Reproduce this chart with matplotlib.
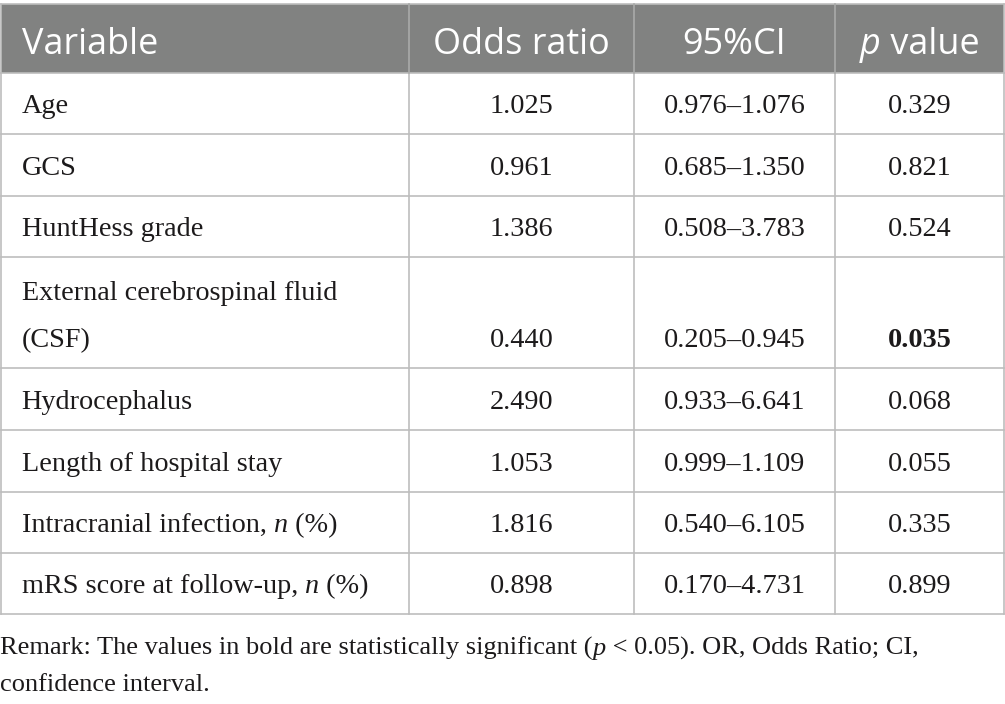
import matplotlib
matplotlib.use("Agg")
import matplotlib.pyplot as plt
from matplotlib.patches import Rectangle

# ---------------- data ----------------
headers = ["Variable", "Odds ratio", "95%CI", "*p* value"]
variables = [
    "Age",
    "GCS",
    "HuntHess grade",
    "External cerebrospinal fluid\n(CSF)",
    "Hydrocephalus",
    "Length of hospital stay",
    "Intracranial infection, *n* (%)",
    "mRS score at follow-up, *n* (%)",
]
odds_ratio = ["1.025", "0.961", "1.386", "0.440", "2.490", "1.053", "1.816", "0.898"]
ci_low = ["0.976", "0.685", "0.508", "0.205", "0.933", "0.999", "0.540", "0.170"]
ci_high = ["1.076", "1.350", "3.783", "0.945", "6.641", "1.109", "6.105", "4.731"]
p_values = ["0.329", "0.821", "0.524", "0.035", "0.068", "0.055", "0.335", "0.899"]
significant = [False, False, False, True, False, False, False, False]
caption_lines = [
    "Remark: The values in bold are statistically significant (*p* < 0.05). OR, Odds Ratio; CI,",
    "confidence interval.",
]

# ---------------- layout ----------------
W, H = 1005, 704
col_edges = [0.5, 409, 634, 835, 1004]
row_edges = [4, 73, 134, 196, 257, 368, 430, 492, 553, 614]

HEAD_BG = "#818281"
GRID = "#bdbdbd"
HEAD_SEP = "#a9aaa9"
TXT = "#1c1a1b"

head_font = dict(family="Open Sans", size=25.9, color="white")
body_font = dict(family="Liberation Serif", size=20.3, color=TXT)
cap_font = dict(family="Liberation Serif", size=19.0, color=TXT)

fig = plt.figure(figsize=(W / 100, H / 100), dpi=100)
ax = fig.add_axes([0, 0, 1, 1])
ax.set_xlim(0, W)
ax.set_ylim(H, 0)
ax.axis("off")
renderer = fig.canvas.get_renderer()


def _width(s, props):
    t1 = ax.text(0, 0, "x" + s + "x", **props)
    t2 = ax.text(0, 0, "xx", **props)
    w = t1.get_window_extent(renderer).width - t2.get_window_extent(renderer).width
    t1.remove()
    t2.remove()
    return w


def rich_text(x, y, s, props, ha="left", weight="normal"):
    parts = s.split("*")
    segs = []
    for i, p in enumerate(parts):
        if not p:
            continue
        pr = dict(props)
        pr["weight"] = weight
        pr["style"] = "italic" if i % 2 == 1 else "normal"
        segs.append((p, pr))
    widths = [_width(p, pr) for p, pr in segs]
    total = sum(widths)
    if ha == "center":
        x0 = x - total / 2
    elif ha == "right":
        x0 = x - total
    else:
        x0 = x
    for (p, pr), w in zip(segs, widths):
        ax.text(x0, y, p, ha="left", va="baseline", **pr)
        x0 += w


# header background
ax.add_patch(Rectangle((col_edges[0], row_edges[0]), col_edges[-1] - col_edges[0],
                       row_edges[1] - row_edges[0], facecolor=HEAD_BG, edgecolor="none", zorder=0))

# grid lines
lw = 1.2
ax.plot([col_edges[0], col_edges[-1]], [row_edges[0], row_edges[0]], color=GRID, lw=lw)
for y in row_edges[1:]:
    ax.plot([col_edges[0], col_edges[-1]], [y, y], color=GRID, lw=lw)
for i, x in enumerate(col_edges):
    ax.plot([x, x], [row_edges[1], row_edges[-1]], color=GRID, lw=lw)
    ax.plot([x, x], [row_edges[0], row_edges[1]],
            color=(HEAD_SEP if 0 < i < len(col_edges) - 1 else GRID), lw=lw)

# header text
pad = 21
hb = row_edges[1] - 19
rich_text(col_edges[0] + pad, hb, headers[0], head_font, ha="left")
for j in range(1, 4):
    cx = (col_edges[j] + col_edges[j + 1]) / 2
    rich_text(cx, hb, headers[j], head_font, ha="center")

# body rows
line_gap = 47
for i in range(len(variables)):
    bottom = row_edges[i + 2]
    base = bottom - 21
    lines = variables[i].split("\n")
    for k, ln in enumerate(lines):
        yb = base - (len(lines) - 1 - k) * line_gap
        rich_text(col_edges[0] + pad, yb, ln, body_font, ha="left")
    vals = [odds_ratio[i], ci_low[i] + "\u2013" + ci_high[i], p_values[i]]
    for j, v in enumerate(vals):
        cx = (col_edges[j + 1] + col_edges[j + 2]) / 2
        wt = "bold" if (j == 2 and significant[i]) else "normal"
        rich_text(cx, base, v, body_font, ha="center", weight=wt)

# caption
cap_base = [655, 691]
for ln, yb in zip(caption_lines, cap_base):
    rich_text(0, yb, ln, cap_font, ha="left")

fig.savefig("out.png", dpi=100)
